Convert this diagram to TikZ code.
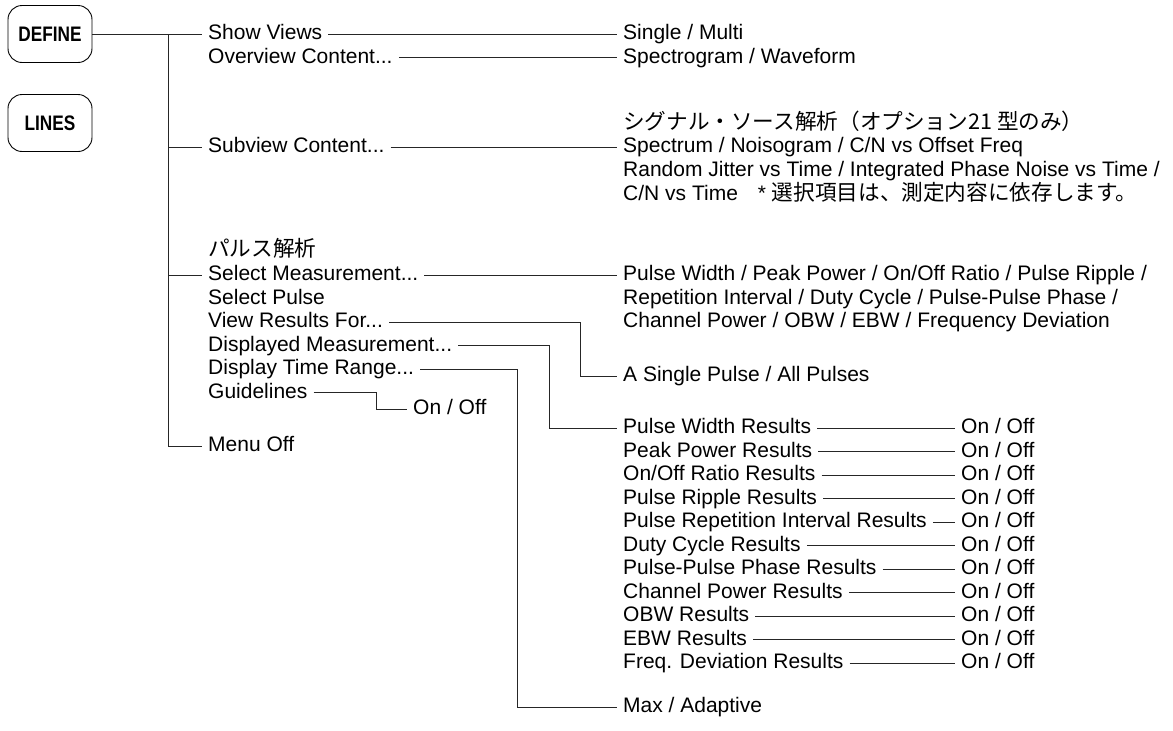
\documentclass[tikz,border=0pt]{standalone}
\usepackage{fontspec}
\setmainfont{Liberation Sans}
\newfontfamily\jpfont{Noto Sans CJK JP}[Scale=1.03]
\newfontfamily\keyfont{Liberation Sans}[FakeStretch=0.82]
\tikzset{
  menuitem/.style={anchor=west, inner xsep=6pt, inner ysep=0pt, text height=15pt, text depth=4pt, font=\fontsize{21}{24}\selectfont},
  keybox/.style={draw, rounded corners=14pt, line width=0.9pt, minimum width=84pt, minimum height=57pt, inner sep=0pt, font=\keyfont\bfseries\fontsize{21}{24}\selectfont},
  wire/.style={line width=0.9pt, draw=black!85},
}
\begin{document}
\begin{tikzpicture}[x=1pt, y=-1pt]
  \useasboundingbox (0,0) rectangle (1173,731);
  % Keys
  \node[keybox] (define) at (50,34) {DEFINE};
  \node[keybox] (lines) at (50,123) {LINES};
  % First level
  \node[menuitem] (showviews) at (202,34) {Show Views};
  \node[menuitem] (overview) at (202,57.5) {Overview Content...};
  \node[menuitem] (subview) at (202,147) {Subview Content...};
  \node[menuitem] (pulsejp) at (202,251) {\jpfont パルス解析};
  \node[menuitem] (selmeas) at (202,275) {Select Measurement...};
  \node[menuitem] (selpulse) at (202,298.5) {Select Pulse};
  \node[menuitem] (viewres) at (202,322) {View Results For...};
  \node[menuitem] (dispmeas) at (202,345.5) {Displayed Measurement...};
  \node[menuitem] (disptime) at (202,369) {Display Time Range...};
  \node[menuitem] (guide) at (202,392.5) {Guidelines};
  \node[menuitem] (guideoo) at (407,409) {On / Off};
  \node[menuitem] (menuoff) at (202,446) {Menu Off};
  % Second level
  \node[menuitem] (single) at (617,34) {Single / Multi};
  \node[menuitem] (spectro) at (617,57.5) {Spectrogram / Waveform};
  \node[menuitem] (sigjp) at (617,124) {\jpfont シグナル・ソース解析（オプション21 型のみ）};
  \node[menuitem] (spectrum) at (617,147) {Spectrum / Noisogram / C/N vs Offset Freq};
  \node[menuitem] (jitter) at (617,171) {Random Jitter vs Time / Integrated Phase Noise vs Time /};
  \node[menuitem] (cnnote) at (617,194.5) {C/N vs Time\hspace{20pt}* {\jpfont 選択項目は、測定内容に依存します。}};
  \node[menuitem] (pwidth) at (617,275) {Pulse Width / Peak Power / On/Off Ratio / Pulse Ripple /};
  \node[menuitem] (repet) at (617,298.5) {Repetition Interval / Duty Cycle / Pulse-Pulse Phase /};
  \node[menuitem] (chpow) at (617,322) {Channel Power / OBW / EBW / Frequency Deviation};
  \node[menuitem] (allpulse) at (617,376) {A Single Pulse / All Pulses};
  \node[menuitem] (maxad) at (617,707) {Max / Adaptive};
  % Results
  \node[menuitem] (r1) at (617,428) {Pulse Width Results};
  \node[menuitem] (r2) at (617,451.5) {Peak Power Results};
  \node[menuitem] (r3) at (617,475) {On/Off Ratio Results};
  \node[menuitem] (r4) at (617,498.5) {Pulse Ripple Results};
  \node[menuitem] (r5) at (617,522) {Pulse Repetition Interval Results};
  \node[menuitem] (r6) at (617,545.5) {Duty Cycle Results};
  \node[menuitem] (r7) at (617,569) {Pulse-Pulse Phase Results};
  \node[menuitem] (r8) at (617,592.5) {Channel Power Results};
  \node[menuitem] (r9) at (617,616) {OBW Results};
  \node[menuitem] (r10) at (617,639.5) {EBW Results};
  \node[menuitem] (r11) at (617,663) {Freq. Deviation Results};
  \node[menuitem] (o1) at (955,428) {On / Off};
  \node[menuitem] (o2) at (955,451.5) {On / Off};
  \node[menuitem] (o3) at (955,475) {On / Off};
  \node[menuitem] (o4) at (955,498.5) {On / Off};
  \node[menuitem] (o5) at (955,522) {On / Off};
  \node[menuitem] (o6) at (955,545.5) {On / Off};
  \node[menuitem] (o7) at (955,569) {On / Off};
  \node[menuitem] (o8) at (955,592.5) {On / Off};
  \node[menuitem] (o9) at (955,616) {On / Off};
  \node[menuitem] (o10) at (955,639.5) {On / Off};
  \node[menuitem] (o11) at (955,663) {On / Off};
  % Trunk
  \coordinate (trunktop) at (168,34);
  \draw[wire] (define.east) -- (showviews.west);
  \draw[wire] (trunktop) |- (menuoff.west);
  \draw[wire] (subview.west -| trunktop) -- (subview.west);
  \draw[wire] (selmeas.west -| trunktop) -- (selmeas.west);
  % Straight links
  \draw[wire] (showviews.east) -- (single.west);
  \draw[wire] (overview.east) -- (spectro.west);
  \draw[wire] (subview.east) -- (spectrum.west);
  \draw[wire] (selmeas.east) -- (pwidth.west);
  % Bent links
  \coordinate (bendview) at (580,322);
  \coordinate (bendmeas) at (549,345.5);
  \coordinate (bendtime) at (517,369);
  \coordinate (bendguide) at (376,392.5);
  \draw[wire] (viewres.east) -- (bendview) |- (allpulse.west);
  \draw[wire] (dispmeas.east) -- (bendmeas) |- (r1.west);
  \draw[wire] (disptime.east) -- (bendtime) |- (maxad.west);
  \draw[wire] (guide.east) -- (bendguide) |- (guideoo.west);
  % Results to On / Off
  \draw[wire] (r1.east) -- (o1.west);
  \draw[wire] (r2.east) -- (o2.west);
  \draw[wire] (r3.east) -- (o3.west);
  \draw[wire] (r4.east) -- (o4.west);
  \draw[wire] (r5.east) -- (o5.west);
  \draw[wire] (r6.east) -- (o6.west);
  \draw[wire] (r7.east) -- (o7.west);
  \draw[wire] (r8.east) -- (o8.west);
  \draw[wire] (r9.east) -- (o9.west);
  \draw[wire] (r10.east) -- (o10.west);
  \draw[wire] (r11.east) -- (o11.west);
\end{tikzpicture}
\end{document}
